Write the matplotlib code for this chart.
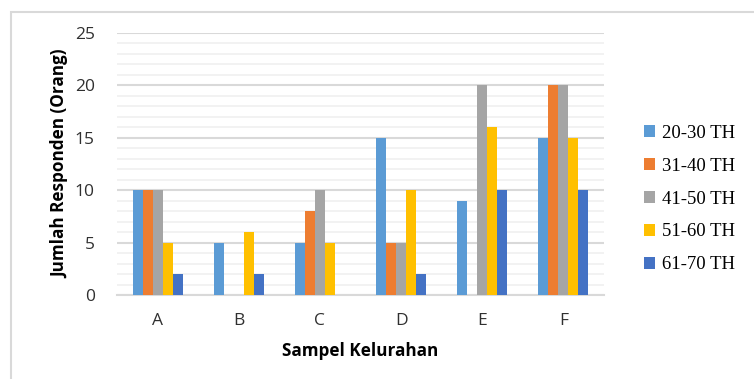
import matplotlib
matplotlib.use("Agg")
import matplotlib.pyplot as plt
import numpy as np
from matplotlib.patches import Rectangle

categories = ["A", "B", "C", "D", "E", "F"]
series_names = ["20-30 TH", "31-40 TH", "41-50 TH", "51-60 TH", "61-70 TH"]
s20_30 = [10, 5, 5, 15, 9, 15]
s31_40 = [10, 0, 8, 5, 0, 20]
s41_50 = [10, 0, 10, 5, 20, 20]
s51_60 = [5, 6, 5, 10, 16, 15]
s61_70 = [2, 2, 0, 2, 10, 10]
colors = ["#5B9BD5", "#ED7D31", "#A5A5A5", "#FFC000", "#4472C4"]

series = [s20_30, s31_40, s41_50, s51_60, s61_70]

fig = plt.figure(figsize=(7.54, 3.79), dpi=100)
fig.patches.append(Rectangle((11/754, -0.1), 1.2, 1 - 12/379 + 0.1,
                             transform=fig.transFigure, fill=False,
                             edgecolor="#D9D9D9", linewidth=1.5))
ax = fig.add_axes([117/754, 1 - 295/379, (604 - 117)/754, (295 - 33)/379])

x = np.arange(len(categories))
w = 0.123
for i, (vals, name, c) in enumerate(zip(series, series_names, colors)):
    ax.bar(x + (i - 2) * w, vals, width=w, color=c, label=name, zorder=3)

ax.set_xlim(-0.5, len(categories) - 0.5)
ax.set_ylim(0, 25)
ax.set_yticks(np.arange(0, 26, 5))
ax.set_yticks(np.arange(0, 26, 1), minor=True)
ax.set_xticks(x)
ax.set_xticklabels(categories)
ax.grid(axis="y", which="major", color="#D9D9D9", linewidth=1.5, zorder=0)
ax.grid(axis="y", which="minor", color="#F0F0F0", linewidth=1.2, zorder=0)
for s in ["top", "right", "left"]:
    ax.spines[s].set_visible(False)
ax.spines["bottom"].set_color("#D9D9D9")
ax.spines["bottom"].set_linewidth(1.5)
ax.tick_params(axis="both", which="both", length=0)
ax.tick_params(axis="y", pad=16, labelsize=12.5, labelcolor="#303030")
ax.tick_params(axis="x", pad=13, labelsize=12.5, labelcolor="#303030")
for lab in ax.get_xticklabels() + ax.get_yticklabels():
    lab.set_family("Open Sans")

ax.set_ylabel("Jumlah Responden (Orang)", fontsize=12.3, fontweight="bold",
              family="Open Sans", labelpad=4)
ax.set_xlabel("Sampel Kelurahan", fontsize=12.3, fontweight="bold",
              family="Open Sans", labelpad=9)

leg = fig.legend(loc="center left", bbox_to_anchor=(627/754, 1 - 199/379),
                 frameon=False, prop={"family": "Liberation Serif", "size": 13.5},
                 handlelength=0.6, handleheight=0.6, handletextpad=0.35,
                 labelspacing=0.85)

fig.savefig("out.png", dpi=100)
